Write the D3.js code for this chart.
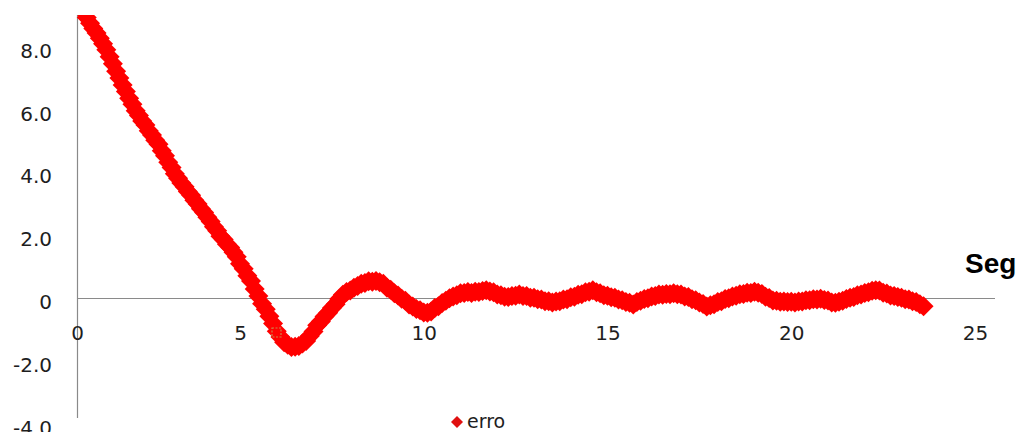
<!DOCTYPE html>
<html>
<head>
<meta charset="utf-8">
<script src="https://cdn.jsdelivr.net/npm/d3@7"></script>
<style>
  html, body { margin: 0; padding: 0; background: #ffffff; }
  svg { display: block; }
</style>
</head>
<body>
<svg id="chart" width="1024" height="432"></svg>
<script>
// Error signal sampled every 0.1 s, starting at t = 0
const seriesName = "erro";
const sampleStep = 0.1;
const erro = [
  9.55, 9.34, 9.13, 8.93, 8.75, 8.58, 8.44, 8.27, 8.10, 7.91,
  7.68, 7.46, 7.22, 7.01, 6.78, 6.58, 6.36, 6.17, 5.96, 5.81,
  5.64, 5.51, 5.33, 5.19, 5.02, 4.90, 4.69, 4.53, 4.32, 4.16,
  3.96, 3.81, 3.66, 3.54, 3.39, 3.27, 3.11, 2.99, 2.84, 2.72,
  2.57, 2.44, 2.27, 2.14, 1.97, 1.86, 1.71, 1.61, 1.46, 1.31,
  1.09, 0.93, 0.71, 0.54, 0.29, 0.06, -0.18, -0.36, -0.58, -0.81,
  -1.06, -1.24, -1.41, -1.49, -1.56, -1.55, -1.53, -1.45, -1.37, -1.21,
  -1.07, -0.87, -0.75, -0.59, -0.47, -0.32, -0.20, -0.03, 0.10, 0.19,
  0.24, 0.33, 0.38, 0.45, 0.48, 0.53, 0.52, 0.54, 0.50, 0.45,
  0.33, 0.26, 0.15, 0.08, -0.02, -0.09, -0.21, -0.27, -0.35, -0.39,
  -0.46, -0.47, -0.43, -0.32, -0.26, -0.16, -0.09, -0.01, 0.05, 0.09,
  0.15, 0.16, 0.19, 0.16, 0.20, 0.19, 0.22, 0.25, 0.21, 0.18,
  0.11, 0.09, 0.04, 0.03, 0.06, 0.07, 0.11, 0.06, 0.06, 0.01,
  0.01, -0.04, -0.05, -0.10, -0.10, -0.14, -0.11, -0.10, -0.05, -0.04,
  0.02, 0.04, 0.10, 0.12, 0.18, 0.20, 0.25, 0.18, 0.15, 0.09,
  0.07, 0.02, 0.01, -0.05, -0.07, -0.13, -0.15, -0.21, -0.13, -0.09,
  -0.03, -0.01, 0.05, 0.06, 0.11, 0.10, 0.13, 0.12, 0.15, 0.12,
  0.11, 0.05, 0.03, -0.04, -0.07, -0.14, -0.19, -0.27, -0.23, -0.20,
  -0.13, -0.10, -0.03, -0.01, 0.05, 0.07, 0.12, 0.13, 0.17, 0.16,
  0.20, 0.17, 0.13, 0.04, 0.00, -0.08, -0.09, -0.12, -0.11, -0.13,
  -0.12, -0.14, -0.11, -0.11, -0.07, -0.07, -0.04, -0.05, -0.02, -0.06,
  -0.08, -0.14, -0.15, -0.12, -0.09, -0.03, 0.01, 0.03, 0.09, 0.11,
  0.16, 0.18, 0.23, 0.25, 0.24, 0.17, 0.14, 0.08, 0.06, 0.03,
  0.01, -0.04, -0.05, -0.10, -0.13, -0.20, -0.26
];

const xTicks = [0, 5, 10, 15, 20, 25];
const yTicks = [-4, -2, 0, 2, 4, 6, 8];
const xTitle = "Seg";

const points = erro.map((v, i) => ({ t: i * sampleStep, v: v }));

const svg = d3.select("#chart");
const red = "#ff0000";
const axisGrey = "#8a8a8a";
const textColor = "#1e1e1e";

// Scales
const x = d3.scaleLinear().domain([0, 5, 25]).range([77, 240, 975]);
const y = d3.scaleLinear().domain([0, 8]).range([298, 46.8]);

const plotTop = 15, plotBottom = 418, plotLeft = 77, plotRight = 995;

// Axis lines
svg.append("line")
  .attr("x1", x(0) + 0.5).attr("x2", x(0) + 0.5)
  .attr("y1", plotTop).attr("y2", plotBottom)
  .attr("stroke", axisGrey).attr("stroke-width", 1.2);
svg.append("line")
  .attr("x1", plotLeft).attr("x2", plotRight)
  .attr("y1", y(0) + 0.5).attr("y2", y(0) + 0.5)
  .attr("stroke", axisGrey).attr("stroke-width", 1.2);

// Tick labels (plain hyphen for negatives)
const fmtY = d => d === 0 ? "0" : d3.format(".1f")(d).replace("\u2212", "-");
const yAxis = d3.axisLeft(y)
  .tickValues(yTicks)
  .tickSize(0)
  .tickPadding(25)
  .tickFormat(fmtY);
const gy = svg.append("g").attr("transform", `translate(${x(0)},0)`).call(yAxis);
gy.select(".domain").remove();
gy.selectAll("text")
  .attr("dy", "0.52em")
  .attr("fill", textColor)
  .style("font-family", "'DejaVu Sans', Verdana, sans-serif")
  .style("font-size", "20px");

const xAxis = d3.axisBottom(x)
  .tickValues(xTicks)
  .tickSize(0)
  .tickPadding(28)
  .tickFormat(d3.format("d"));
const gx = svg.append("g").attr("transform", `translate(0,${y(0)})`).call(xAxis);
gx.select(".domain").remove();
gx.selectAll("text")
  .attr("fill", textColor)
  .style("font-family", "'DejaVu Sans', Verdana, sans-serif")
  .style("font-size", "20px");

// Axis title
svg.append("text")
  .attr("x", 965).attr("y", 273)
  .attr("fill", "#000")
  .style("font-family", "'Liberation Sans', Arial, sans-serif")
  .style("font-weight", "bold")
  .style("font-size", "28px")
  .text(xTitle);

// Plot clip
svg.append("clipPath").attr("id", "plotClip")
  .append("rect")
  .attr("x", plotLeft - 20).attr("y", plotTop)
  .attr("width", plotRight - plotLeft + 40).attr("height", plotBottom - plotTop);

// Diamond markers
const diamond = r => `M0,${-r}L${r},0L0,${r}L${-r},0Z`;
svg.append("g")
  .attr("clip-path", "url(#plotClip)")
  .selectAll("path")
  .data(points)
  .join("path")
  .attr("transform", d => `translate(${x(d.t)},${y(d.v)})`)
  .attr("d", diamond(10))
  .attr("fill", red);

// Small data-label box near the first crossing
svg.append("rect")
  .attr("x", 272).attr("y", 328).attr("width", 9).attr("height", 9)
  .attr("fill", "none")
  .attr("stroke", "#c8874a")
  .attr("stroke-width", 1.2)
  .attr("stroke-dasharray", "2,1.5");

// Legend
const legend = svg.append("g").attr("transform", "translate(457,422)");
legend.append("path").attr("d", diamond(6)).attr("fill", "#e01010");
legend.append("text")
  .attr("x", 10).attr("y", 0)
  .attr("dy", "0.32em")
  .attr("fill", textColor)
  .style("font-family", "'DejaVu Sans', Verdana, sans-serif")
  .style("font-size", "19px")
  .text(seriesName);
</script>
</body>
</html>
